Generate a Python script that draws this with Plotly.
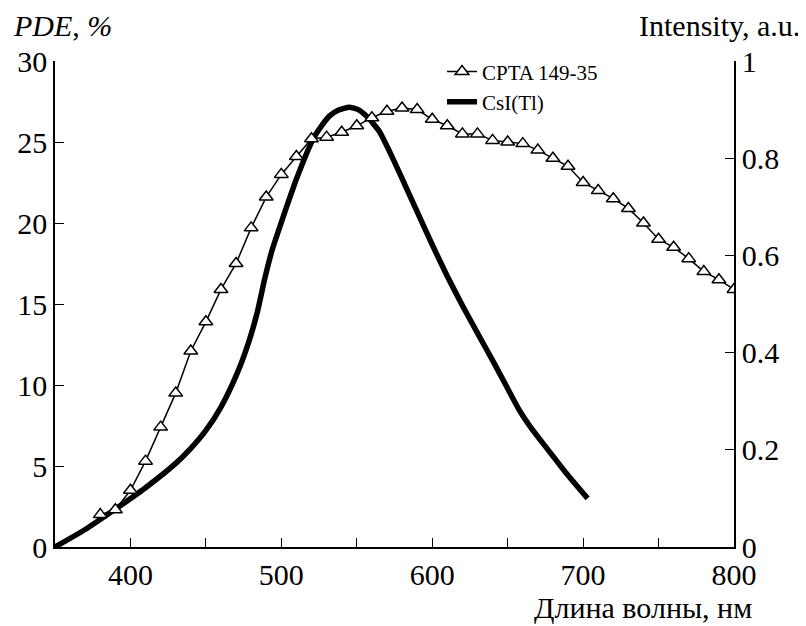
import plotly.graph_objects as go

# CPTA 149-35 photon detection efficiency (left axis, %)
cpta_nm = [380, 390, 400, 410, 420, 430, 440, 450, 460, 470, 480, 490, 500, 510, 520,
           530, 540, 550, 560, 570, 580, 590, 600, 610, 620, 630, 640, 650, 660, 670,
           680, 690, 700, 710, 720, 730, 740, 750, 760, 770, 780, 790, 800]
cpta_pde = [2.0, 2.3, 3.5, 5.3, 7.4, 9.5, 12.1, 13.9, 15.9, 17.5, 19.7, 21.6, 23.0, 24.1, 25.2,
            25.3, 25.6, 26.0, 26.5, 26.9, 27.1, 27.0, 26.4, 26.0, 25.5, 25.5, 25.1, 25.0, 24.9, 24.5,
            24.0, 23.5, 22.5, 22.0, 21.5, 20.9, 20.0, 19.0, 18.5, 17.8, 17.0, 16.5, 15.9]

# CsI(Tl) emission spectrum (right axis, a.u.)
csi_nm = [350, 370, 390, 410, 430, 440, 450, 460, 470, 478, 484, 489, 494, 500, 510,
          521, 527, 532, 538, 545, 551, 557, 565, 572, 579, 590, 600, 610, 620, 630,
          640, 650, 658, 666, 676, 688, 703]
csi_int = [0.0, 0.036, 0.078, 0.122, 0.172, 0.203, 0.240, 0.288, 0.352, 0.418, 0.482, 0.552, 0.612, 0.668, 0.757,
           0.839, 0.868, 0.887, 0.899, 0.905, 0.900, 0.885, 0.855, 0.812, 0.765, 0.690, 0.622, 0.557, 0.497, 0.440,
           0.384, 0.326, 0.280, 0.243, 0.203, 0.155, 0.100]

x_ticks = [350, 400, 450, 500, 550, 600, 650, 700, 750, 800]
x_ticktext = ["", "400", "", "500", "", "600", "", "700", "", "800"]
left_ticks = [0, 5, 10, 15, 20, 25, 30]
right_ticks = [0, 0.2, 0.4, 0.6, 0.8, 1]
right_ticktext = ["0", "0.2", "0.4", "0.6", "0.8", "1"]

FONT = "Liberation Serif"

fig = go.Figure()
fig.add_trace(go.Scatter(
    x=csi_nm, y=csi_int, name="CsI(Tl)", mode="lines",
    line=dict(color="black", width=5.5, shape="spline", smoothing=0.5),
    yaxis="y", showlegend=True, legendrank=2,
))
fig.add_trace(go.Scatter(
    x=cpta_nm, y=cpta_pde, name="CPTA 149-35", mode="lines+markers",
    line=dict(color="black", width=1.5),
    marker=dict(symbol="triangle-up", size=12, color="white",
                line=dict(color="black", width=1.5)),
    yaxis="y2", legendrank=1,
))

axis_common = dict(ticks="inside", ticklen=9, tickwidth=1.2, tickcolor="black",
                   showline=True, linecolor="black", linewidth=1.5,
                   showgrid=False, zeroline=False, automargin=False)

fig.update_layout(
    width=798, height=618,
    margin=dict(l=47, r=72, t=53, b=79),
    paper_bgcolor="white", plot_bgcolor="white",
    font=dict(family=FONT, size=30, color="black"),
    xaxis=dict(range=[350, 800], tickvals=x_ticks, ticktext=x_ticktext, **axis_common),
    yaxis=dict(range=[0, 1], side="right", tickvals=right_ticks, ticktext=right_ticktext,
               **axis_common),
    yaxis2=dict(range=[0, 30], side="left", overlaying="y", tickvals=left_ticks,
                **axis_common),
    legend=dict(x=0.57, y=1.02, xanchor="left", yanchor="top",
                font=dict(family=FONT, size=21, color="black"),
                bgcolor="rgba(0,0,0,0)", traceorder="normal", tracegroupgap=0),
    annotations=[
        dict(text="<i>PDE</i>, <i>%</i>", xref="paper", yref="paper",
             x=-0.065, y=1.0, yshift=36, xanchor="left", yanchor="middle",
             showarrow=False, font=dict(family=FONT, size=30)),
        dict(text="Intensity, a.u.", xref="paper", yref="paper",
             x=1.1, y=1.0, yshift=36, xanchor="right", yanchor="middle",
             showarrow=False, font=dict(family=FONT, size=30)),
        dict(text="Длина волны, нм", xref="paper", yref="paper",
             x=1.03, y=0.0, yshift=-60, xanchor="right", yanchor="middle",
             showarrow=False, font=dict(family=FONT, size=30)),
    ],
)

fig.write_html("out.html")
